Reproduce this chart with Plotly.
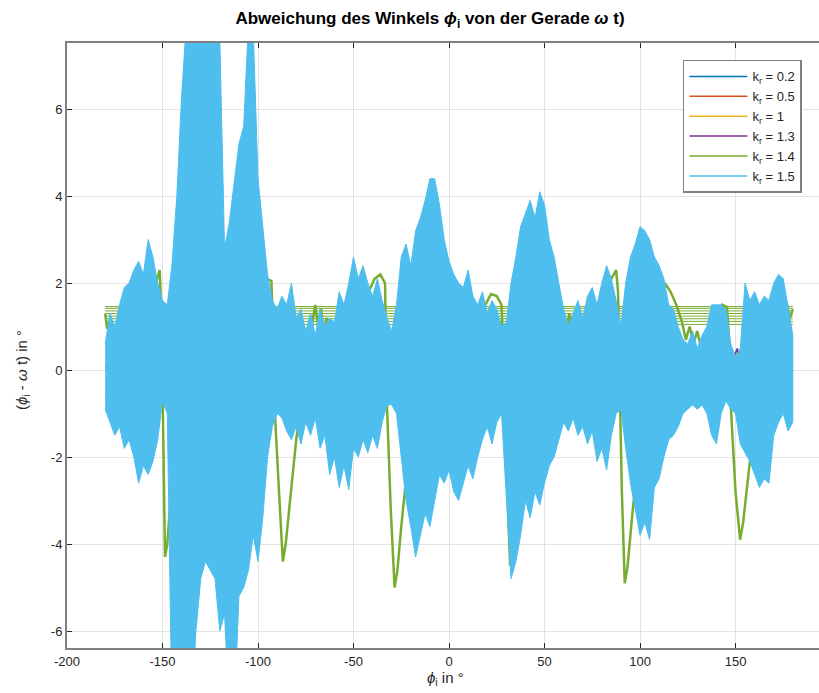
import numpy as np
import plotly.graph_objects as go

# ---------------------------------------------------------------- data
# common angle grid (degrees) for the k_r = 1.5 band
CYAN_X = np.arange(-180, 180.01, 2.5)

# upper / lower envelope of the k_r = 1.5 oscillation
CYAN_TOP = [0.6, 1.3, 1.0, 1.5, 1.9, 2.0, 2.3, 2.5, 2.2, 3.0,
            2.6, 2.0, 1.6, 1.5, 2.45, 4.0, 6.3, 8.0, 9.0, 9.0,
            9.0, 9.0, 9.0, 8.0, 7.6, 2.8, 3.4, 4.3, 5.2, 5.6,
            8.0, 7.8, 4.4, 3.3, 2.2, 1.6, 1.4, 1.7, 1.5, 2.0,
            1.2, 1.4, 0.9, 1.3, 0.8, 1.4, 1.0, 1.2, 1.1, 1.8,
            1.5, 2.0, 2.6, 2.1, 2.4, 2.0, 1.7, 2.1, 1.6, 1.2,
            0.9, 1.5, 2.6, 2.9, 2.4, 3.2, 3.5, 3.9, 4.4, 4.4,
            3.8, 3.0, 2.5, 2.2, 2.0, 1.9, 2.3, 1.7, 1.5, 1.8,
            1.3, 1.6, 1.4, 1.0, 1.1, 2.0, 2.6, 3.3, 3.6, 3.9,
            3.5, 4.1, 3.8, 3.0, 2.6, 2.0, 1.4, 1.0, 1.3, 1.6,
            1.2, 1.7, 1.9, 1.5, 2.0, 2.4, 2.1, 1.6, 1.0, 2.0,
            2.6, 2.9, 3.3, 3.2, 3.0, 2.6, 2.4, 2.1, 1.5, 1.4,
            1.0, 0.7, 0.6, 0.9, 0.5, 0.8, 1.0, 1.5, 1.5, 1.5,
            1.4, 0.6, 0.3, 0.5, 2.0, 1.6, 1.8, 1.5, 1.7, 1.6,
            2.0, 2.2, 2.1, 1.4, 0.8]
CYAN_BOT = [-0.9, -1.2, -1.5, -1.3, -1.8, -1.6, -2.0, -2.6, -2.2, -2.4,
            -2.1, -1.6, -0.7, -1.0, -8.0, -8.0, -8.0, -8.0, -8.0, -6.0,
            -4.8, -4.4, -4.6, -4.8, -6.0, -5.6, -8.0, -8.0, -5.2, -5.0,
            -4.6, -3.8, -4.4, -3.4, -2.0, -1.3, -1.0, -1.1, -1.4, -1.6,
            -1.3, -1.7, -1.2, -1.5, -1.1, -1.8, -1.5, -2.4, -2.0, -2.7,
            -2.2, -2.75, -1.8, -2.0, -1.6, -1.9, -1.5, -1.8, -1.2, -0.8,
            -0.8, -1.0, -2.0, -3.0, -3.6, -4.3, -3.8, -3.3, -3.6, -3.0,
            -2.4, -2.6, -2.3, -2.8, -3.0, -2.6, -2.2, -2.5, -2.0, -1.6,
            -1.3, -1.7, -1.2, -1.0, -3.0, -4.8, -4.4, -3.8, -3.0, -3.4,
            -2.8, -3.1, -2.6, -2.2, -2.0, -1.6, -1.2, -1.4, -1.1, -1.5,
            -1.3, -1.7, -1.4, -2.1, -1.8, -2.3, -1.5, -1.0, -0.9, -1.8,
            -2.6, -3.2, -3.8, -3.5, -3.9, -2.7, -2.5, -2.0, -1.6, -1.5,
            -1.3, -1.0, -0.9, -0.8, -0.9, -0.8, -1.0, -1.5, -1.7, -1.0,
            -0.7, -0.9, -1.0, -1.7, -1.9, -2.1, -2.4, -2.7, -2.5, -2.6,
            -1.5, -1.2, -1.0, -1.4, -1.2]

# k_r = 1.4 trace (one pass from -180 to 180)
GREEN_X = [-180, -179, -178, -176, -172, -168, -164, -160, -156, -153, -151.5,
           -150.5, -150, -149.3, -148.7, -147.5, -146, -143, -140, -137, -134,
           -130, -126, -122, -118, -113, -108, -104, -100, -96, -93,
           -92, -91.5, -89, -87, -85.5, -83, -80, -77.5, -75, -73,
           -71.5, -70, -68.5, -67, -65.5, -64, -62, -58, -54, -50,
           -46, -42, -39, -36, -33.5, -33, -32.5, -30.5, -28.5, -27,
           -25, -22, -19, -16, -13, -10, -7, -5.5, -4, -2.5,
           -1, 1, 5, 10, 15, 19, 22, 25, 27.5, 28.3,
           29, 30.5, 32, 33.5, 36, 39, 42, 45, 49, 53,
           57, 59, 61, 63, 65, 67, 70, 74, 78, 82,
           85, 87.5, 88.5, 89.2, 90.5, 92, 93.5, 96, 99, 102,
           105, 108, 111, 113, 116, 119, 122, 124, 126, 128,
           130, 132, 134, 137, 140, 143, 145.5, 146.5, 147.5, 150,
           152.4, 154, 157, 160, 163, 166, 169, 172, 175, 177,
           178.5, 180]
GREEN_Y = [1.3, 0.95, 1.1, 0.7, 0.4, 0.3, 0.5, 0.9, 1.6, 2.1, 2.3,
           1.2, -0.5, -3.0, -4.3, -4.0, -3.1, -1.8, -0.7, 0.0, 0.5,
           1.0, 1.2, 0.9, 0.6, 0.6, 0.9, 1.4, 1.9, 2.1, 2.05,
           0.8, -0.7, -2.8, -4.4, -4.0, -2.9, -1.6, -0.8, -0.1, 0.5,
           1.1, 1.5, 1.0, 1.4, 0.9, 1.2, 0.6, 0.3, 0.5, 0.8,
           1.3, 1.8, 2.1, 2.2, 2.0, 0.8, -0.8, -3.2, -5.0, -4.6,
           -3.6, -2.3, -1.2, -0.4, 0.2, 0.8, 1.5, 2.0, 1.4, 1.9,
           1.2, 0.9, 0.6, 0.7, 1.1, 1.5, 1.75, 1.7, 1.5, 0.6,
           -1.0, -3.0, -4.5, -4.2, -3.0, -1.8, -0.8, 0.0, 0.4, 0.7,
           1.1, 1.4, 0.8, 1.3, 0.6, 1.0, 0.6, 0.8, 1.2, 1.7,
           2.1, 2.3, 1.8, 0.0, -2.8, -4.9, -4.5, -3.3, -2.0, -0.9,
           0.0, 0.8, 1.6, 2.0, 1.8, 1.5, 1.1, 0.7, 1.0, 0.6,
           0.9, 0.5, 0.8, 0.7, 1.1, 1.5, 1.45, 0.8, -0.8, -2.8,
           -3.9, -3.5, -2.3, -1.2, -0.4, 0.3, 0.8, 1.1, 1.3, 1.5,
           1.2, 1.4]
# levels of the k_r = 1.4 return strokes from +180 back to -180
GREEN_WRAP = [1.46, 1.42, 1.36, 1.30, 1.24, 1.18, 1.12, 1.05, -0.62, -0.68]

# smaller gains: key points shared by k_r = 0.2 ... 1.3
OTHER_X = [-180, -165,
           -152, -150, -148, -146, -143, -134, -119, -104,
           -90, -88, -86, -84, -81, -72, -57, -42,
           -31, -29, -27, -25, -22, -13, 2, 17,
           29, 31, 33, 35, 38, 47, 62, 77,
           89, 91, 93, 95, 98, 107, 122, 137,
           149, 151, 153, 155, 158, 167, 180]
K02_Y = [0.0, 0.1,
         0.1, 0.3, -0.4, -0.85, -0.5, -0.2, 0.1, 0.0,
         0.1, 0.35, -0.45, -0.9, -0.55, -0.25, 0.05, -0.1,
         0.15, 0.3, -0.5, -0.95, -0.6, -0.2, 0.1, 0.05,
         0.1, 0.25, -0.4, -0.8, -0.5, -0.15, 0.1, 0.0,
         0.1, 0.3, -0.45, -0.9, -0.55, -0.2, 0.05, 0.0,
         0.1, 0.3, -0.4, -0.85, -0.5, -0.2, 0.0]
K05_Y = [0.1, 0.0,
         0.2, 0.45, 0.3, 0.35, 0.0, 0.1, -0.1, 0.2,
         0.25, 0.5, 0.35, 0.3, 0.05, 0.1, -0.15, 0.15,
         0.2, 0.45, 0.3, 0.35, -0.05, 0.1, -0.1, 0.2,
         0.2, 0.4, 0.3, 0.3, 0.0, 0.05, -0.1, 0.15,
         0.25, 0.45, 0.35, 0.3, 0.0, 0.1, -0.1, 0.2,
         0.2, 0.4, 0.3, 0.35, 0.0, 0.1, 0.1]
K1_Y = [0.05, 0.1,
        0.15, 0.5, 0.35, 0.3, -0.1, 0.0, 0.2, 0.1,
        0.2, 0.55, 0.3, 0.25, -0.1, 0.05, 0.2, 0.1,
        0.15, 0.5, 0.4, 0.3, -0.15, 0.0, 0.15, 0.1,
        0.1, 0.45, 0.35, 0.3, -0.1, 0.0, 0.2, 0.05,
        0.15, 0.5, 0.35, 0.3, -0.1, 0.05, 0.2, 0.1,
        0.15, 0.45, 0.3, 0.25, -0.1, 0.0, 0.05]
K13_Y = [0.1, 0.2,
         0.3, 0.8, -0.2, -0.6, -0.3, 0.2, -0.2, 0.3,
         0.35, 0.85, -0.25, -0.65, -0.3, 0.2, -0.15, 0.3,
         0.3, 0.9, -0.2, -0.7, -0.35, 0.25, -0.2, 0.3,
         0.3, 0.75, -0.2, -0.6, -0.3, 0.2, -0.2, 0.25,
         0.35, 0.8, -0.25, -0.65, -0.3, 0.2, -0.15, 0.3,
         0.3, 0.5, -0.2, -0.6, -0.3, 0.2, 0.1]

X_TICKS = [-200, -150, -100, -50, 0, 50, 100, 150]
X_TICK_TEXT = ["-200", "-150", "-100", "-50", "0", "50", "100", "150"]
Y_TICKS = [-6, -4, -2, 0, 2, 4, 6]
Y_TICK_TEXT = ["-6", "-4", "-2", "0", "2", "4", "6"]

LABELS = ["k<sub>r</sub> = 0.2", "k<sub>r</sub> = 0.5", "k<sub>r</sub> = 1",
          "k<sub>r</sub> = 1.3", "k<sub>r</sub> = 1.4", "k<sub>r</sub> = 1.5"]
COLORS = ["#0072BD", "#D95319", "#EDB120", "#7E2F8E", "#77AC30", "#4DBEEE"]

FONT = "Liberation Sans, Arial, Helvetica, sans-serif"
AXIS_GRAY = "#808080"

# ---------------------------------------------------------------- traces
fig = go.Figure()

for ys, col in zip([K02_Y, K05_Y, K1_Y, K13_Y], COLORS[:4]):
    fig.add_trace(go.Scatter(x=OTHER_X, y=ys, mode="lines", showlegend=False,
                             line=dict(color=col, width=1.5)))

# return strokes of k_r = 1.4
wrap_x, wrap_y = [], []
for lvl in GREEN_WRAP:
    wrap_x += [180, -180, None]
    wrap_y += [lvl, lvl, None]
fig.add_trace(go.Scatter(x=wrap_x, y=wrap_y, mode="lines", showlegend=False,
                         line=dict(color=COLORS[4], width=1), hoverinfo="skip"))
fig.add_trace(go.Scatter(x=GREEN_X, y=GREEN_Y, mode="lines", showlegend=False,
                         line=dict(color=COLORS[4], width=2.5)))

# k_r = 1.5 band drawn as a filled envelope
band_x = list(CYAN_X) + list(CYAN_X[::-1])
band_y = CYAN_TOP + CYAN_BOT[::-1]
fig.add_trace(go.Scatter(x=band_x, y=band_y, mode="lines", fill="toself",
                         fillcolor=COLORS[5], showlegend=False,
                         line=dict(color=COLORS[5], width=1)))

# legend keys (thin line samples)
for name, col in zip(LABELS, COLORS):
    fig.add_trace(go.Scatter(x=[None], y=[None], mode="lines", name=name,
                             line=dict(color=col, width=1.5)))

# ---------------------------------------------------------------- layout
fig.update_layout(
    width=819, height=693,
    margin=dict(l=67, r=0, t=43, b=45),
    paper_bgcolor="white", plot_bgcolor="white",
    font=dict(family=FONT, size=13, color="#262626"),
    title=dict(text="<b>Abweichung des Winkels <i>ϕ</i><sub>i</sub> von der Gerade <i>ω</i> t)</b>",
               x=430 / 819, xref="container", xanchor="center",
               y=1 - 18 / 693, yref="container", yanchor="middle",
               font=dict(family=FONT, size=17, color="#000000")),
    showlegend=True,
    legend=dict(x=0.819, y=0.972, xanchor="left", yanchor="top",
                bgcolor="white", bordercolor=AXIS_GRAY, borderwidth=1.5,
                font=dict(family=FONT, size=13, color="#262626"),
                itemwidth=58, tracegroupgap=0),
    annotations=[
        dict(text="<i>ϕ</i><sub>i</sub> in °", x=445, y=678,
             showarrow=False, xanchor="center", yanchor="middle",
             font=dict(family=FONT, size=15, color="#262626")),
        dict(text="(<i>ϕ</i><sub>i</sub> - <i>ω</i> t) in °", x=22, y=370,
             textangle=-90, showarrow=False, xanchor="center", yanchor="middle",
             font=dict(family=FONT, size=15, color="#262626")),
    ],
)

# annotation positions above are given in pixels; convert to paper units
pw, ph = 819 - 67, 693 - 43 - 45
for ann in fig.layout.annotations:
    ann.xref, ann.yref = "paper", "paper"
    ann.x = (ann.x - 67) / pw
    ann.y = (693 - 45 - ann.y) / ph

fig.update_xaxes(range=[-200, 193.7], tickvals=X_TICKS, ticktext=X_TICK_TEXT,
                 showgrid=True, gridcolor="#e3e3e3", gridwidth=1,
                 zeroline=False, showline=True, linecolor=AXIS_GRAY, linewidth=2,
                 mirror="ticks", ticks="inside", ticklen=5, tickcolor="#262626",
                 tickfont=dict(family=FONT, size=13, color="#262626"))
fig.update_yaxes(range=[-6.39, 7.52], tickvals=Y_TICKS, ticktext=Y_TICK_TEXT,
                 showgrid=True, gridcolor="#e3e3e3", gridwidth=1,
                 zeroline=False, showline=True, linecolor=AXIS_GRAY, linewidth=2,
                 mirror=False, ticks="inside", ticklen=5, tickcolor="#262626",
                 tickfont=dict(family=FONT, size=13, color="#262626"))

fig.write_html("out.html")
